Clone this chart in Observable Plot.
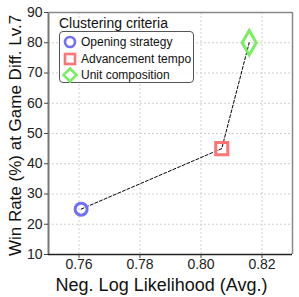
<!DOCTYPE html>
<html>
<head>
<meta charset="utf-8">
<script src="https://cdn.jsdelivr.net/npm/d3@7"></script>
<script src="https://cdn.jsdelivr.net/npm/@observablehq/plot@0.6"></script>
<style>
  html, body { margin: 0; padding: 0; background: #fff; }
  #wrap { position: relative; width: 299px; height: 297px; font-family: "Liberation Sans", Arial, sans-serif; }
  #legTitle { position: absolute; left: 59px; top: 15px; font-size: 14px; color: #111; line-height: 16px; }
  #legBox { position: absolute; left: 59px; top: 31px; width: 135px; height: 52px; border: 1px solid #555; border-radius: 4px; background: rgba(255,255,255,0.85); box-sizing: border-box; }
  .row { position: absolute; left: 0; height: 16px; display: flex; align-items: center; font-size: 12px; color: #111; white-space: nowrap; }
  .row svg { margin-left: 2px; margin-right: 3px; }
</style>
</head>
<body>
<div id="wrap"></div>
<script>
const criteria = ["Opening strategy", "Advancement tempo", "Unit composition"];
const nll = [0.7607, 0.8068, 0.8158];
const winRate = [25, 45, 80];
const colors = ["#6f6ff7", "#ff7474", "#78ee60"];
const symbols = ["circle", "square", "diamond"];
const radii = [6, 6.8, 7.4];
const xTicks = [0.76, 0.78, 0.80, 0.82];
const yTicks = [10, 20, 30, 40, 50, 60, 70, 80, 90];
const xLabel = "Neg. Log Likelihood (Avg.)";
const yLabel = "Win Rate (%) at Game Diff. Lv.7";
const legendTitle = "Clustering criteria";

const rows = criteria.map((c, i) => ({criterion: c, x: nll[i], y: winRate[i]}));

const chart = Plot.plot({
  width: 299,
  height: 297,
  marginLeft: 48,
  marginRight: 7,
  marginTop: 12,
  marginBottom: 43,
  style: {fontFamily: "'Liberation Sans', Arial, sans-serif", background: "white", color: "#222"},
  x: {domain: [0.75, 0.83]},
  y: {domain: [10, 90]},
  marks: [
    Plot.gridX(xTicks, {stroke: "#cfcfcf", strokeOpacity: 1, strokeDasharray: "2,2"}),
    Plot.gridY(yTicks, {stroke: "#cfcfcf", strokeOpacity: 1, strokeDasharray: "2,2"}),
    Plot.ruleX([0.75], {stroke: "#777", strokeWidth: 2}),
    Plot.ruleX([0.83], {stroke: "#888", strokeWidth: 1.5}),
    Plot.ruleY([90], {stroke: "#888", strokeWidth: 1.5}),
    Plot.ruleY([10], {stroke: "#222", strokeWidth: 1.5}),
    Plot.axisX(xTicks, {tickSize: 4, tickPadding: 1, fontSize: 14, tickFormat: d => d.toFixed(2), label: null, stroke: "#444"}),
    Plot.axisY(yTicks, {tickSize: 4, tickPadding: 2, fontSize: 14, label: null, stroke: "#444"}),
    Plot.text([xLabel], {frameAnchor: "bottom", textAnchor: "middle", dx: -9, dy: 31, fontSize: 18, fill: "#111", lineAnchor: "middle"}),
    Plot.text([yLabel], {frameAnchor: "left", textAnchor: "middle", rotate: -90, dx: -33, dy: 2, fontSize: 17, fill: "#111"}),
    Plot.line(rows, {x: "x", y: "y", stroke: "black", strokeWidth: 1, strokeDasharray: "3,2"}),
    ...rows.map((r, i) => Plot.dot([r], {x: "x", y: "y", symbol: symbols[i], r: radii[i], stroke: colors[i], strokeWidth: 3, fill: "none"}))
  ]
});

const wrap = document.getElementById("wrap");
wrap.appendChild(chart);

const t = document.createElement("div");
t.id = "legTitle";
t.textContent = legendTitle;
wrap.appendChild(t);

const box = document.createElement("div");
box.id = "legBox";
const shapes = [
  '<circle cx="8" cy="8" r="5" fill="none" stroke-width="2.6" stroke="COL"/>',
  '<rect x="3" y="3" width="10" height="10" fill="none" stroke-width="2.6" stroke="COL"/>',
  '<path d="M8 1.5 L14.5 8 L8 14.5 L1.5 8 Z" fill="none" stroke-width="2.6" stroke="COL"/>'
];
criteria.forEach((c, i) => {
  const row = document.createElement("div");
  row.className = "row";
  row.style.top = (2 + i * 16.5) + "px";
  row.innerHTML = '<svg width="16" height="16">' + shapes[i].replace("COL", colors[i]) + '</svg>';
  const s = document.createElement("span");
  s.textContent = c;
  row.appendChild(s);
  box.appendChild(row);
});
wrap.appendChild(box);
</script>
</body>
</html>
